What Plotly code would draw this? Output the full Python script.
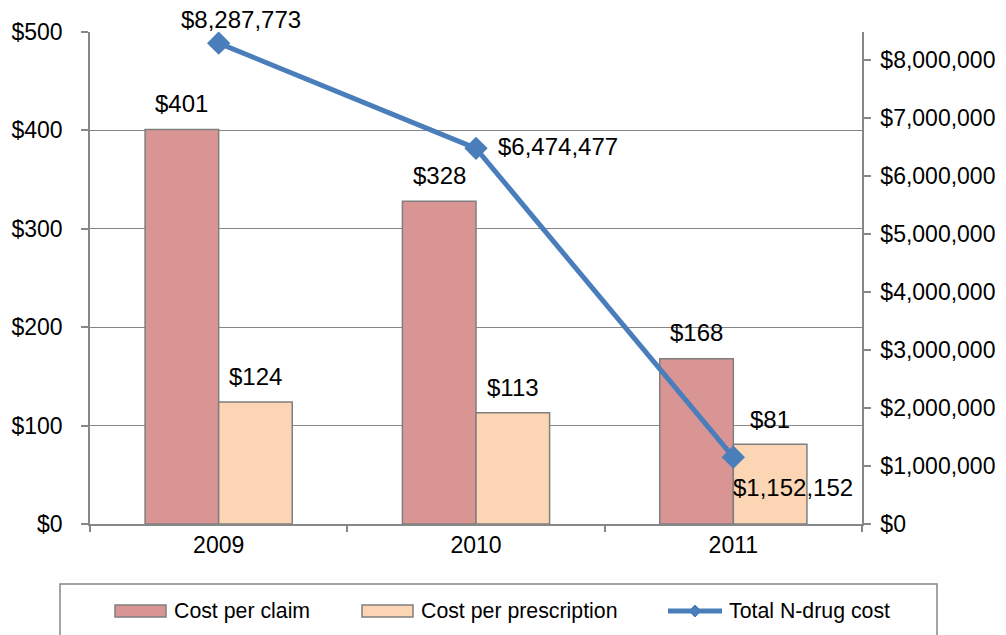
import plotly.graph_objects as go

years = ["2009", "2010", "2011"]
cost_per_claim = [401, 328, 168]
cost_per_rx = [124, 113, 81]
total_cost = [8287773, 6474477, 1152152]

W, H = 1006, 635
OFF = 8  # page body margin in the browser
# desired plot area in screenshot pixels
PL, PR, PT, PB = 90, 862, 32, 524
ML, MR, MT, MB = PL - OFF, W - (PR - OFF), PT - OFF, H - (PB - OFF)
PW = PR - PL
PH = PB - PT
BARGAP = 110 / 257

FONT = "Liberation Sans, Arial, sans-serif"
GRID = "#878787"
C_CLAIM = "#D99594"
C_RX = "#FCD5B5"
C_LINE = "#4A7EBB"

fig = go.Figure()
fig.add_trace(go.Bar(x=years, y=cost_per_claim, name="Cost per claim",
                     marker=dict(color=C_CLAIM, line=dict(color="#7F7F7F", width=1.5)),
                     showlegend=False))
fig.add_trace(go.Bar(x=years, y=cost_per_rx, name="Cost per prescription",
                     marker=dict(color=C_RX, line=dict(color="#7F7F7F", width=1.5)),
                     showlegend=False))
fig.add_trace(go.Scatter(x=years, y=total_cost, name="Total N-drug cost", yaxis="y2",
                         mode="lines+markers",
                         line=dict(color=C_LINE, width=5),
                         marker=dict(symbol="diamond", size=18, color=C_LINE),
                         showlegend=False))

cat_w = PW / len(years)
half = (1 - BARGAP) * cat_w / 4
ann = []
LBL = dict(size=24)
for i, v in enumerate(cost_per_claim):
    ann.append(dict(x=i, y=v, xref="x", yref="y", text=f"${v:,}", showarrow=False,
                    xshift=-half, yshift=26, yanchor="middle", font=LBL))
for i, v in enumerate(cost_per_rx):
    ann.append(dict(x=i, y=v, xref="x", yref="y", text=f"${v:,}", showarrow=False,
                    xshift=half, yshift=25, yanchor="middle", font=LBL))
line_offsets = [(22, 24, "center"), (20, 2, "left"), (-2, -30, "left")]
for i, (v, (dx, dy, xa)) in enumerate(zip(total_cost, line_offsets)):
    ann.append(dict(x=i, y=v, xref="x", yref="y2", text=f"${v:,}", showarrow=False,
                    xshift=dx, yshift=dy, xanchor=xa, yanchor="middle", font=LBL))

def px(X):
    return (X - PL) / PW

def py(Y):
    return (PB - Y) / PH

shapes = []
shapes.append(dict(type="rect", xref="paper", yref="paper", x0=px(60), x1=px(937),
                   y0=py(660), y1=py(584), line=dict(color=GRID, width=1.5), fillcolor="white",
                   layer="below"))
leg_y = 611
shapes.append(dict(type="rect", xref="paper", yref="paper", x0=px(115), x1=px(166),
                   y0=py(617), y1=py(605), line=dict(color="#7F7F7F", width=1.5), fillcolor=C_CLAIM))
shapes.append(dict(type="rect", xref="paper", yref="paper", x0=px(362), x1=px(413),
                   y0=py(617), y1=py(605), line=dict(color="#7F7F7F", width=1.5), fillcolor=C_RX))
shapes.append(dict(type="line", xref="paper", yref="paper", x0=px(668), x1=px(722),
                   y0=py(leg_y), y1=py(leg_y), line=dict(color=C_LINE, width=5)))
dcx, dr = 695, 6
shapes.append(dict(type="path", xref="paper", yref="paper",
                   path=f"M {px(dcx-dr)},{py(leg_y)} L {px(dcx)},{py(leg_y-dr)} L {px(dcx+dr)},{py(leg_y)} L {px(dcx)},{py(leg_y+dr)} Z",
                   fillcolor=C_LINE, line=dict(color=C_LINE, width=1)))
for xx, t in [(172, "Cost per claim"), (419, "Cost per prescription"), (727, "Total N-drug cost")]:
    ann.append(dict(x=px(xx), y=py(leg_y), xref="paper", yref="paper", text=t, showarrow=False,
                    xanchor="left", yanchor="middle", font=dict(size=21.3)))

fig.update_layout(
    width=W, height=H,
    margin=dict(l=ML, r=MR, t=MT, b=MB, autoexpand=False),
    paper_bgcolor="white", plot_bgcolor="white",
    font=dict(family=FONT, size=23, color="black"),
    barmode="group", bargap=BARGAP, bargroupgap=0,
    xaxis=dict(type="category", categoryorder="array", categoryarray=years,
               range=[-0.5, len(years) - 0.5], autorange=False,
               showline=True, linecolor=GRID, linewidth=1.5,
               ticks="outside", tickson="boundaries", ticklen=6, tickcolor=GRID, tickwidth=1.5,
               showgrid=False, tickangle=0, tickfont=dict(size=23)),
    yaxis=dict(range=[0, 500], autorange=False, dtick=100, tickformat="$,.0f", showline=True,
               linecolor=GRID, linewidth=1.5, ticks="outside", ticklen=7, tickcolor=GRID,
               tickwidth=1.5, showgrid=True, gridcolor=GRID, gridwidth=1.2, zeroline=False,
               ticklabelstandoff=14, tickfont=dict(size=23)),
    yaxis2=dict(range=[0, 8.48e6], autorange=False, tickmode="array",
                tickvals=[i * 1000000 for i in range(9)], tickformat="$,.0f",
                overlaying="y", side="right", showline=True, linecolor=GRID,
                linewidth=1.5, ticks="outside", ticklen=7, tickcolor=GRID, tickwidth=1.5,
                showgrid=False, zeroline=False, ticklabelstandoff=5, tickfont=dict(size=23)),
    annotations=ann, shapes=shapes,
)

fig.write_html("out.html")
